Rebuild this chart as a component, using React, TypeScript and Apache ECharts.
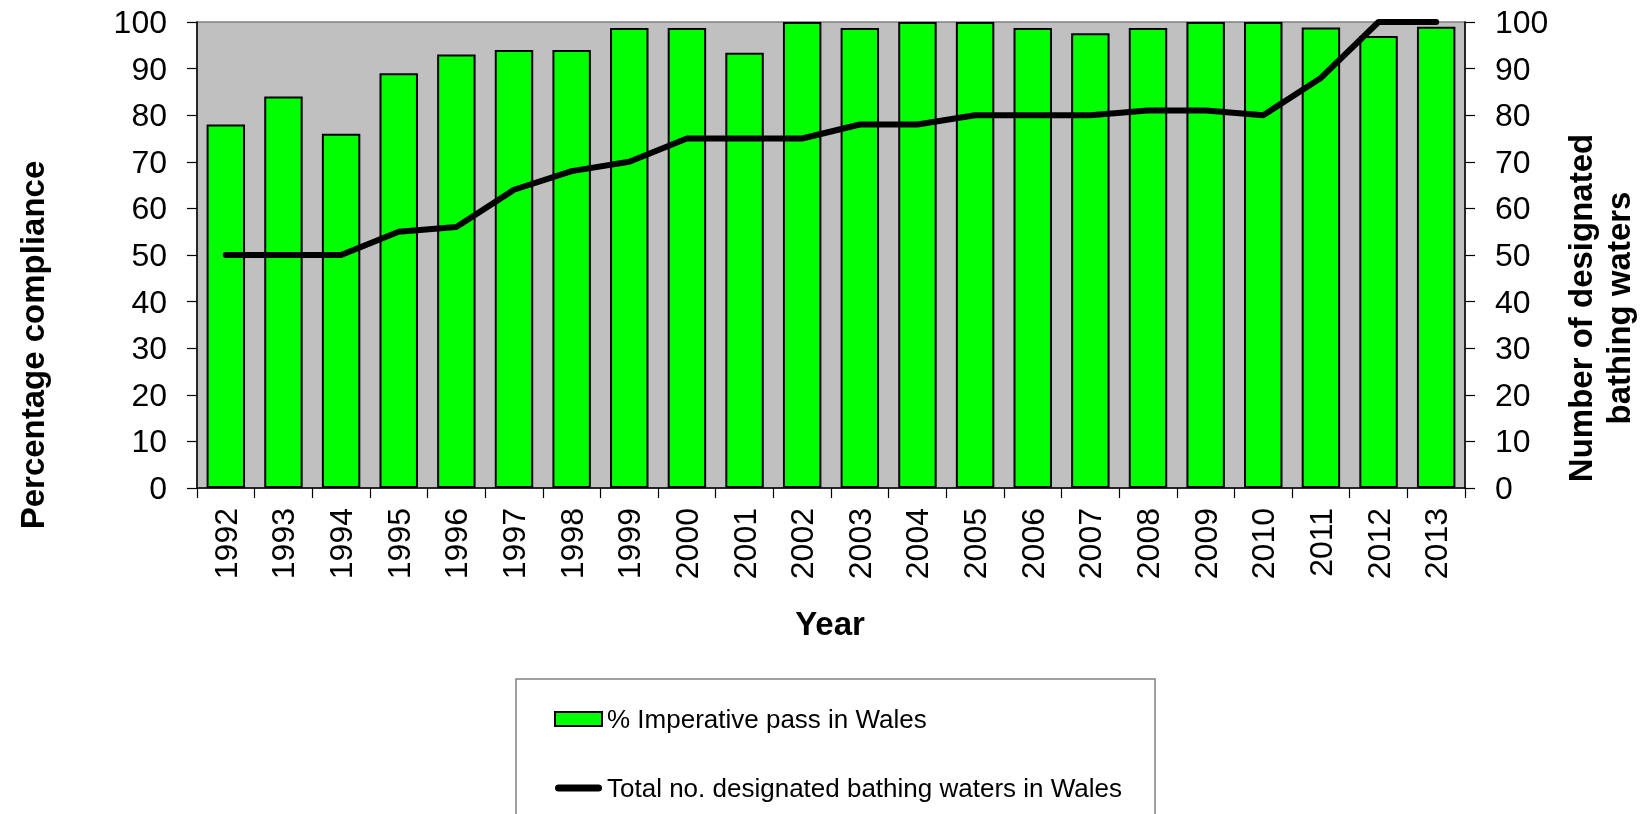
import React, { useEffect, useRef } from "react";
import * as echarts from "echarts";

const years = ["1992","1993","1994","1995","1996","1997","1998","1999","2000","2001","2002","2003","2004","2005","2006","2007","2008","2009","2010","2011","2012","2013"];
const imperativePass = [78, 84, 76, 89, 93, 94, 94, 98.7, 98.7, 93.4, 100, 98.7, 100, 100, 98.7, 97.6, 98.7, 100, 100, 98.8, 97, 99];
const totalDesignated = [50, 50, 50, 55, 56, 64, 68, 70, 75, 75, 75, 78, 78, 80, 80, 80, 81, 81, 80, 88, 100, 100];
const yTicks = { min: 0, max: 100, interval: 10 };

const barName = "% Imperative pass in Wales";
const lineName = "Total no. designated bathing waters in Wales";
const FONT = "'Liberation Sans', Arial, sans-serif";

export default function App() {
  const ref = useRef<HTMLDivElement>(null);
  useEffect(() => {
    if (!ref.current) return;
    const chart = echarts.init(ref.current, undefined, { renderer: "svg" });
    const axisLabel = { color: "#000", fontSize: 32, fontFamily: FONT, margin: 30 };
    chart.setOption({
      animation: false,
      textStyle: { fontFamily: FONT },
      grid: {
        left: 197, right: 177, top: 22, bottom: 326,
        show: true, backgroundColor: "#c0c0c0", borderColor: "#808080", borderWidth: 1.5,
      },
      xAxis: {
        type: "category",
        data: years,
        boundaryGap: true,
        axisLine: { lineStyle: { color: "#000", width: 1.5 } },
        axisTick: { show: true, length: 10, lineStyle: { color: "#000", width: 1.2 } },
        axisLabel: { color: "#000", fontSize: 32, fontFamily: FONT, rotate: 90, margin: 20, interval: 0 },
      },
      yAxis: [
        {
          type: "value", ...yTicks, position: "left",
          splitLine: { show: false },
          axisLine: { show: true, lineStyle: { color: "#000", width: 1.5 } },
          axisTick: { show: true, length: 10, lineStyle: { color: "#000", width: 1.2 } },
          axisLabel,
        },
        {
          type: "value", ...yTicks, position: "right",
          splitLine: { show: false },
          axisLine: { show: true, lineStyle: { color: "#000", width: 1.5 } },
          axisTick: { show: true, length: 10, lineStyle: { color: "#000", width: 1.2 } },
          axisLabel,
        },
      ],
      legend: {
        orient: "vertical",
        left: 549,
        top: 699,
        itemWidth: 47,
        itemHeight: 14,
        itemGap: 39,
        textStyle: { color: "#000", fontSize: 26, fontFamily: FONT, lineHeight: 30 },
        data: [
          { name: barName, icon: "rect", itemStyle: { color: "#00ff00", borderColor: "#000", borderWidth: 2 } },
          {
            name: lineName,
            icon: "path://M3.5,0 L43.5,0 A3.5,3.5 0 0 1 43.5,7 L3.5,7 A3.5,3.5 0 0 1 3.5,0 Z",
            itemStyle: { color: "#000", borderWidth: 0 },
          },
        ],
      },
      series: [
        {
          name: barName,
          type: "bar",
          data: imperativePass,
          barCategoryGap: "33.3%",
          itemStyle: { color: "#00ff00", borderColor: "#000", borderWidth: 2 },
        },
        {
          name: lineName,
          type: "line",
          yAxisIndex: 1,
          data: totalDesignated,
          symbol: "none",
          lineStyle: { color: "#000", width: 6, cap: "round", join: "round" },
          itemStyle: { color: "#000" },
          z: 5,
        },
      ],
      graphic: [
        {
          type: "rect", z: -1,
          shape: { x: 516, y: 679, width: 639, height: 200 },
          style: { fill: "#fff", stroke: "#808080", lineWidth: 1.5 },
        },
        {
          type: "text", x: 32, y: 345, rotation: Math.PI / 2,
          style: { text: "Percentage compliance", font: `bold 33px ${FONT}`, fill: "#000", textAlign: "center", textVerticalAlign: "middle" },
        },
        {
          type: "text", x: 1599, y: 308, rotation: Math.PI / 2,
          style: { text: "Number of designated\nbathing waters", font: `bold 33px ${FONT}`, lineHeight: 38, fill: "#000", textAlign: "center", textVerticalAlign: "middle" },
        },
        {
          type: "text", x: 830, y: 623,
          style: { text: "Year", font: `bold 33px ${FONT}`, fill: "#000", textAlign: "center", textVerticalAlign: "middle" },
        },
      ],
    });
    return () => chart.dispose();
  }, []);
  return <div ref={ref} style={{ position: "fixed", left: 0, top: 0, width: "1642px", height: "814px" }} />;
}
